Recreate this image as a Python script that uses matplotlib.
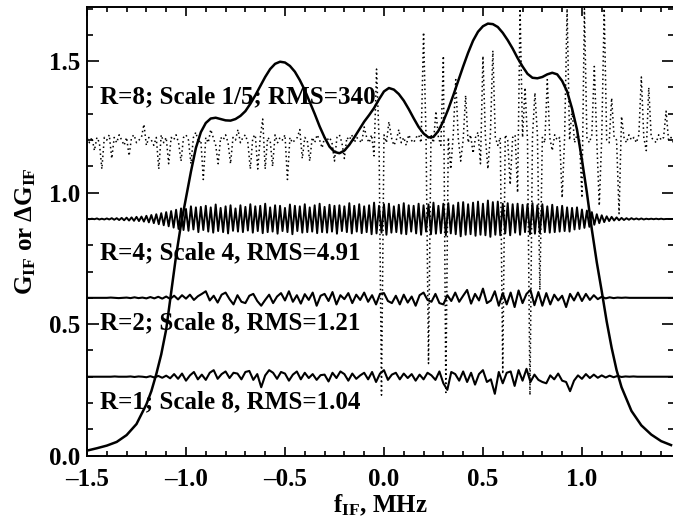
import numpy as np
import matplotlib
matplotlib.use('Agg')
import matplotlib.pyplot as plt
from matplotlib.ticker import MultipleLocator, FuncFormatter

# curva de ganancia G_IF
g_freq = [-1.50, -1.45, -1.40, -1.35, -1.30, -1.25, -1.20, -1.175, -1.15, -1.125,
          -1.10, -1.075, -1.05, -1.025, -1.00, -0.975, -0.95, -0.925, -0.90, -0.875,
          -0.85, -0.825, -0.80, -0.775, -0.75, -0.725, -0.70, -0.675, -0.65, -0.625,
          -0.60, -0.575, -0.55, -0.525, -0.50, -0.475, -0.45, -0.425, -0.40, -0.375,
          -0.35, -0.325, -0.30, -0.275, -0.25, -0.225, -0.20, -0.175, -0.15, -0.125,
          -0.10, -0.075, -0.05, -0.025, 0.00, 0.025, 0.05, 0.075, 0.10, 0.125,
          0.15, 0.175, 0.20, 0.225, 0.25, 0.275, 0.30, 0.325, 0.35, 0.375,
          0.40, 0.425, 0.45, 0.475, 0.50, 0.525, 0.55, 0.575, 0.60, 0.625,
          0.65, 0.675, 0.70, 0.725, 0.75, 0.775, 0.80, 0.825, 0.85, 0.875,
          0.90, 0.925, 0.95, 0.975, 1.00, 1.025, 1.05, 1.075, 1.10, 1.125,
          1.15, 1.175, 1.20, 1.25, 1.30, 1.35, 1.40, 1.45]
g_if = [0.019, 0.028, 0.038, 0.052, 0.078, 0.120, 0.195, 0.245, 0.310, 0.385,
        0.480, 0.620, 0.760, 0.880, 0.980, 1.080, 1.170, 1.230, 1.265, 1.282,
        1.285, 1.280, 1.275, 1.274, 1.280, 1.292, 1.310, 1.338, 1.370, 1.405,
        1.440, 1.470, 1.490, 1.498, 1.495, 1.482, 1.460, 1.428, 1.390, 1.345,
        1.300, 1.252, 1.210, 1.175, 1.155, 1.150, 1.160, 1.182, 1.210, 1.240,
        1.270, 1.295, 1.322, 1.355, 1.385, 1.398, 1.392, 1.375, 1.350, 1.318,
        1.283, 1.250, 1.225, 1.210, 1.212, 1.235, 1.272, 1.318, 1.370, 1.425,
        1.480, 1.532, 1.578, 1.612, 1.633, 1.643, 1.641, 1.630, 1.608, 1.580,
        1.548, 1.512, 1.480, 1.452, 1.437, 1.435, 1.440, 1.450, 1.456, 1.450,
        1.425, 1.385, 1.320, 1.240, 1.125, 1.000, 0.860, 0.735, 0.625, 0.510,
        0.410, 0.325, 0.260, 0.170, 0.115, 0.080, 0.055, 0.040]

# desviaciones Delta G_IF, en milesimas, paso 0.0125 MHz desde -1.5 (R=4)
r4_step = 0.0125
r4_dev = [1, -1, 1, -1, 2, -2, 1, -2, 2, -2, 3, -3,
          3, -4, 4, -5, 5, -6, 6, -7, 8, -8, 9, -10,
          12, -13, 15, -16, 18, -20, 22, -24, 26, -28, 30, -33,
          35, -38, 40, -42, 38, -45, 48, -40, 44, -50, 46, -42,
          50, -48, 44, -52, 55, -46, 42, -50, 48, -55, 52, -45,
          40, -48, 52, -50, 46, -44, 56, -52, 48, -46, 50, -54,
          58, -50, 44, -48, 52, -56, 50, -46, 42, -50, 55, -58,
          50, -46, 48, -52, 56, -50, 44, -48, 52, -54, 58, -50,
          46, -52, 54, -48, 50, -56, 52, -46, 48, -50, 60, -55,
          50, -48, 56, -54, 48, -50, 52, -58, 62, -55, 50, -52,
          56, -60, 58, -52, 48, -50, 54, -56, 60, -58, 52, -48,
          50, -55, 58, -60, 52, -48, 55, -58, 62, -56, 50, -54,
          58, -62, 60, -55, 52, -58, 62, -66, 64, -60, 56, -58,
          62, -64, 66, -60, 58, -62, 70, -68, 64, -60, 66, -62,
          58, -55, 60, -62, 56, -52, 58, -60, 54, -50, 56, -58,
          60, -56, 52, -54, 56, -50, 48, -52, 54, -50, 46, -48,
          50, -46, 44, -48, 42, -40, 44, -38, 36, -34, 32, -30,
          26, -22, 18, -16, 14, -12, 10, -8, 8, -6, 6, -5,
          4, -4, 3, -3, 3, -2, 2, -2, 2, -2, 1, -1,
          1, -1, 1, -1, 1, -1, 0, 0, 0, 0]

# R=2 y R=1, en milesimas, paso 0.02 MHz desde -1.5
r2_step = 0.02
r2_dev = [0, 0, 0, 0, 0, 0, 1, 0, -1, 0,
          1, -1, 2, -1, 1, -2, 3, -2, 4, -3,
          5, -4, 8, -6, 10, -3, 12, -8, 6, 15,
          25, -10, 8, -18, 12, 20, -5, -25, 10, -15,
          -20, 8, 15, -12, -30, -8, 12, -20, 5, 18,
          -10, 25, -15, 10, -22, 14, -8, 20, -30, 8,
          15, -12, 22, -25, 10, -5, 18, -20, 12, -8,
          20, -15, 10, -25, 15, 18, -12, -20, 8, -25,
          12, -18, 5, -30, 10, 20, -8, -15, 15, -20,
          -25, 10, -12, 20, -15, 8, 30, -22, 15, -10,
          35, -20, -10, 25, -30, 18, -25, 20, -35, 28,
          -20, 15, 30, -28, 22, -30, 18, -25, 12, -10,
          8, -35, 15, -10, 20, -12, 15, -8, 10, -5,
          4, -2, 2, -1, 1, 0, 1, 0, 0, 0,
          0, 0, 0, 0, 0, 0, 0, 0, 0]
r1_dev = [0, 0, 0, 0, 0, 0, 0, 1, 0, 0,
          0, 1, -1, 1, 0, -2, 2, -3, 3, -4,
          4, -6, 10, -8, 12, -15, 5, 18, -10, 8,
          -12, 15, 25, -8, 10, 20, -5, 15, 12, -10,
          18, 22, -12, 10, -40, 5, 25, 15, -8, 18,
          12, -15, 8, 20, -10, 15, -5, 10, -12, 6,
          8, -18, 15, -5, 20, 10, -15, 12, -8, 5,
          15, -10, 18, -20, 12, 25, -12, 8, 15, -10,
          12, -5, 10, -15, 8, -10, 15, 5, -12, 20,
          -25, -50, 18, 10, -15, 20, -20, 15, -30, 10,
          25, -20, -10, -65, 18, -25, 15, 20, -35, 25,
          -15, 30, -20, 8, -12, -20, -25, 5, -10, 12,
          -15, -20, -55, -15, 5, -8, 10, -5, 8, -4,
          5, -3, 4, -2, 3, -1, 1, 0, 1, 0,
          0, 0, 0, 0, 0, 0, 0, 0, 0]

# R=8 (punteada), en centesimas, paso 0.0125 MHz desde -1.5
r8_step = 0.0125
r8_dev = [1, -1, 1, -4, 1, -1, -11, 1, 0, 2, -7, 1, -1, 2, 0, -2, 1, -6, 1, 2,
          -1, 0, 1, 6, -2, 1, 0, -2, 1, -11, 2, -1, 1, -9, 1, 0, 2, -1, -8, 1,
          2, 0, -9, 1, 3, -1, 0, -15, 1, -1, 4, 1, -2, -9, 1, 0, 2, -1, -9, 1,
          0, 4, -1, 1, 2, -1, -11, 1, 2, -11, 1, 8, -11, 1, 0, -10, 2, -1, 1, 0,
          2, -15, 1, -1, 0, 1, 4, -7, 1, 0, -8, 1, -1, 2, 0, -3, 1, 0, 1, -1,
          -8, 1, 2, -1, -7, 1, 0, 2, -1, 1, 0, -1, 5, 1, -1, 2, -6, 27, 1, -97,
          2, -1, 7, 1, -2, 0, 4, -1, 1, -2, 2, 0, -1, 1, 2, -1, 41, 1, -85, 2,
          -1, 11, 1, -2, 32, -96, 1, -11, 2, 23, 1, -8, 0, 17, -1, 2, -5, 1, 3, -9,
          32, 1, -11, 2, 34, 1, -2, 1, -89, 2, 0, -17, 1, 2, -20, 50, 1, 20, 0, -97,
          1, 18, 2, -57, 1, -1, 23, 1, -4, 2, 0, 1, -22, 1, 50, 0, 12, -1, 2, 1,
          -22, 50, 1, -1, 2, 28, 0, -25, 1, 50, 0, -1, 16, 1, 0, -28, 9, 1, -1, 2,
          0, 1, -1, 2, 24, 1, -4, 20, 1, 0, -1, 2, 0, 1, 11, 0, 1, -1]

offsets = {'R1': 0.3, 'R2': 0.6, 'R4': 0.9, 'R8': 1.2}
etiquetas = [("R=8; Scale 1/5; RMS=340", 1.363),
             ("R=4; Scale 4, RMS=4.91", 0.770),
             ("R=2; Scale 8, RMS=1.21", 0.504),
             ("R=1; Scale 8, RMS=1.04", 0.204)]

plt.rcParams['font.family'] = ['Liberation Serif', 'DejaVu Serif']
plt.rcParams['font.weight'] = 'bold'
plt.rcParams['mathtext.fontset'] = 'custom'
plt.rcParams['mathtext.rm'] = 'Liberation Serif:bold'
plt.rcParams['mathtext.bf'] = 'Liberation Serif:bold'
plt.rcParams['mathtext.it'] = 'Liberation Serif:bold'

fig = plt.figure(figsize=(6.73, 5.23), dpi=100)
ax = fig.add_axes([87 / 673, 67.4 / 523, 587 / 673, 448.3 / 523])

ax.plot(g_freq, g_if, color='black', lw=1.8)

x4 = -1.5 + r4_step * np.arange(len(r4_dev))
ax.plot(x4, offsets['R4'] + np.array(r4_dev) / 1000, color='black', lw=1.4)

x2 = -1.5 + r2_step * np.arange(len(r2_dev))
ax.plot(x2, offsets['R2'] + np.array(r2_dev) / 1000, color='black', lw=1.5)
ax.plot(x2, offsets['R1'] + np.array(r1_dev) / 1000, color='black', lw=1.5)

x8 = -1.5 + r8_step * np.arange(len(r8_dev))
ax.plot(x8, offsets['R8'] + np.array(r8_dev) / 100, color='black', lw=1.1,
        linestyle=(0, (1, 2)))

for txt, yy in etiquetas:
    ax.text(-1.434, yy, txt, fontsize=18, fontweight='bold', va='center', ha='left')

# etiquetas con guion largo como en IDL
fmt = FuncFormatter(lambda v, pos: ('%.1f' % v).replace('-', '\u2013'))

ax.set_xlim(-1.5, 1.465)
ax.set_ylim(0, 1.705)
ax.xaxis.set_major_locator(MultipleLocator(0.5))
ax.xaxis.set_minor_locator(MultipleLocator(0.1))
ax.yaxis.set_major_locator(MultipleLocator(0.5))
ax.yaxis.set_minor_locator(MultipleLocator(0.1))
ax.xaxis.set_major_formatter(fmt)
ax.yaxis.set_major_formatter(fmt)
ax.tick_params(which='both', direction='in', top=True, right=True, width=1.2,
               labelsize=18)
ax.tick_params(axis='x', which='major', length=6.5, pad=9)
ax.tick_params(axis='x', which='minor', length=3.3)
ax.tick_params(axis='y', which='major', length=8.5, pad=5)
ax.tick_params(axis='y', which='minor', length=4.5)
for s in ax.spines.values():
    s.set_linewidth(1.4)

ax.set_xlabel(r'f$_{\rm IF}$, MHz', fontsize=18, fontweight='bold', labelpad=1)
ax.set_ylabel(r'G$_{\rm IF}$ or $\Delta$G$_{\rm IF}$', fontsize=18, fontweight='bold',
              labelpad=8)

fig.savefig('out.png', dpi=100)
